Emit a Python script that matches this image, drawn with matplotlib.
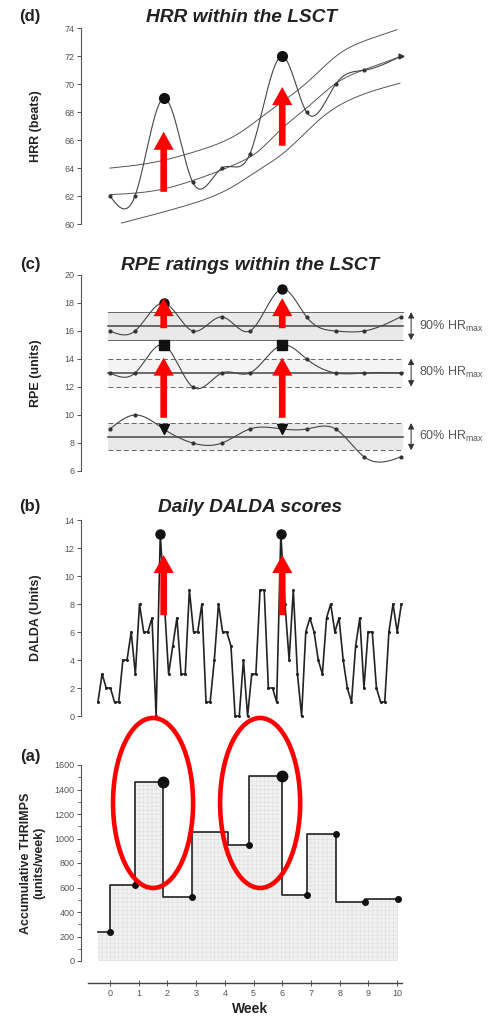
import numpy as np
import matplotlib
matplotlib.use("Agg")
import matplotlib.pyplot as plt
from matplotlib.patches import Ellipse

plt.rcParams['font.family'] = ['Liberation Sans', 'DejaVu Sans']
plt.rcParams['mathtext.default'] = 'regular'
plt.rcParams['hatch.linewidth'] = 0.3

# ---- data -------------------------------------------------------------
# weeks of the weekly LSCT tests
test_weeks = [0.0, 0.87, 1.87, 2.88, 3.9, 4.87, 6.0, 6.85, 7.86, 8.86, 10.12]
peak_idx = [2, 6]

# (d) HRR within the LSCT
hrr = [62, 62, 69, 63, 64, 65, 72, 68, 70, 71, 72]
trend_weeks = [0.0, 1.85, 2.87, 4.5, 5.1, 5.92, 6.85, 7.9, 8.94, 10.15]
trend_vals = [62.1, 62.5, 63.1, 64.4, 65.1, 66.7, 68.3, 70.1, 71.1, 72.0]
upper_weeks = [0.0, 1.5, 3.0, 4.5, 5.5, 6.85, 8.0, 9.0, 10.0]
upper_vals = [64.0, 64.4, 65.2, 66.5, 68.0, 70.1, 72.2, 73.2, 73.9]
lower_weeks = [0.4, 2.55, 4.3, 5.1, 6.04, 7.43, 8.6, 10.1]
lower_vals = [60.07, 61.26, 62.7, 63.76, 65.07, 67.7, 69.1, 70.07]

# (c) RPE ratings within the LSCT
rpe_90 = [16, 16, 18, 16, 17, 16, 19, 17, 16, 16, 17]
rpe_80 = [13, 13, 15, 12, 13, 13, 15, 14, 13, 13, 13]
rpe_60 = [9, 10, 9, 8, 8, 9, 9, 9, 9, 7, 7]
band_labels = ['90% HR$_{max}$', '80% HR$_{max}$', '60% HR$_{max}$']
band_centres = [16.35, 13.03, 8.45]
band_half = [1.0, 1.0, 0.97]

# (b) daily DALDA scores
dalda = [1, 3, 2, 2, 1, 1, 4, 4, 6, 3, 8, 6, 6, 7, 0, 13, 8, 3, 5, 7,
         3, 3, 9, 6, 6, 8, 1, 1, 4, 8, 6, 6, 5, 0, 0, 4, 0, 3, 3, 9,
         9, 2, 2, 1, 13, 8, 4, 9, 3, 0, 6, 7, 6, 4, 3, 7, 8, 6, 7, 4,
         2, 1, 5, 7, 2, 6, 6, 2, 1, 1, 6, 8, 6, 8]
dalda_start, dalda_end = -0.42, 10.15
dalda_peaks = [15, 44]

# (a) accumulative THRIMPS per week (step edges and values)
thr_weeks = [-0.42, 0.0, 0.87, 1.85, 2.87, 4.1, 4.85, 6.0, 6.87, 7.87, 8.87, 10.05]
thr_vals = [240, 240, 620, 1460, 520, 1050, 950, 1510, 540, 1040, 480, 510]
thr_marked = [1, 2, 4, 6, 8, 9, 10, 11]
thr_big = [3, 7]
week_ticks = list(range(0, 11))


def natural_spline(x, y, n=400):
    x = np.asarray(x, float)
    y = np.asarray(y, float)
    k = len(x)
    h = np.diff(x)
    A = np.zeros((k, k))
    r = np.zeros(k)
    A[0, 0] = A[-1, -1] = 1
    for i in range(1, k - 1):
        A[i, i - 1] = h[i - 1]
        A[i, i] = 2 * (h[i - 1] + h[i])
        A[i, i + 1] = h[i]
        r[i] = 3 * ((y[i + 1] - y[i]) / h[i] - (y[i] - y[i - 1]) / h[i - 1])
    c = np.linalg.solve(A, r)
    b = (y[1:] - y[:-1]) / h - h * (2 * c[:-1] + c[1:]) / 3
    d = (c[1:] - c[:-1]) / (3 * h)
    xs = np.linspace(x[0], x[-1], n)
    idx = np.clip(np.searchsorted(x, xs) - 1, 0, k - 2)
    dx = xs - x[idx]
    return xs, y[idx] + b[idx] * dx + c[idx] * dx ** 2 + d[idx] * dx ** 3


W, H = 489, 1017
fig = plt.figure(figsize=(W / 100, H / 100), dpi=100)


def make_ax(top_px, bottom_px):
    return fig.add_axes([81 / W, 1 - bottom_px / H, 333 / W, (bottom_px - top_px) / H])


def style_y(ax, label, label_x=-0.118):
    for s in ['top', 'right', 'bottom']:
        ax.spines[s].set_visible(False)
    ax.spines['left'].set_color('#555555')
    ax.spines['left'].set_linewidth(0.8)
    ax.tick_params(axis='y', labelsize=6.5, colors='#555555', length=3, width=0.7, pad=1.5)
    ax.set_xticks([])
    ax.set_ylabel(label, fontsize=9, fontweight='bold', color='#222222', linespacing=1.1)
    ax.yaxis.set_label_coords(label_x, 0.5)
    ax.set_xlim(-1.01, 10.59)


def red_arrow(ax, x, y0, y1):
    ax.annotate('', xy=(x, y1), xytext=(x, y0),
                arrowprops=dict(arrowstyle='simple,head_length=13,head_width=14.5,tail_width=4.8',
                                mutation_scale=1, color='red', lw=0, shrinkA=0, shrinkB=0),
                zorder=10)


# ---- (d) HRR -------------------------------------------------------------
ax_d = make_ax(28.3, 224)
style_y(ax_d, 'HRR (beats)')
ax_d.set_ylim(60, 74)
ax_d.set_yticks(range(60, 75, 2))
for wk, vals in [(upper_weeks, upper_vals), (trend_weeks, trend_vals), (lower_weeks, lower_vals)]:
    xs, ys = natural_spline(wk, vals)
    ax_d.plot(xs, ys, color='#555555', lw=0.7, clip_on=False)
xs, ys = natural_spline(test_weeks, hrr)
ax_d.plot(xs, ys, color='#444444', lw=0.8, clip_on=False)
ax_d.plot(test_weeks[:-1], hrr[:-1], 'o', color='#333333', ms=2, clip_on=False)
ax_d.plot(test_weeks[-1], hrr[-1], '>', color='#333333', ms=3.5, clip_on=False)
ax_d.plot([test_weeks[i] for i in peak_idx], [hrr[i] for i in peak_idx], 'o',
          color='#111111', ms=7, clip_on=False)
red_arrow(ax_d, test_weeks[2], 62.3, 66.6)
red_arrow(ax_d, test_weeks[6], 65.6, 69.8)

# ---- (c) RPE -------------------------------------------------------------
ax_c = make_ax(275, 471)
style_y(ax_c, 'RPE (units)')
ax_c.set_ylim(6, 20)
ax_c.set_yticks(range(6, 21, 2))
band_x = [-0.07, 10.2]
fills = ['#e9e9e9', '#f4f4f4', '#e9e9e9']
edge_styles = ['-', (0, (5, 3)), (0, (5, 3))]
for cen, hw, fc, ls, lab in zip(band_centres, band_half, fills, edge_styles, band_labels):
    ax_c.fill_between(band_x, cen - hw, cen + hw, color=fc, lw=0, zorder=0)
    ax_c.plot(band_x, [cen + hw] * 2, color='#666666', lw=0.7, ls=ls, zorder=1)
    ax_c.plot(band_x, [cen - hw] * 2, color='#666666', lw=0.7, ls=ls, zorder=1)
    ax_c.plot(band_x, [cen] * 2, color='#444444', lw=1.1, zorder=1)
    ax_c.annotate('', xy=(10.49, cen + hw), xytext=(10.49, cen - hw),
                  arrowprops=dict(arrowstyle='<|-|>,head_length=0.35,head_width=0.18',
                                  color='#333333', lw=0.7, shrinkA=0, shrinkB=0),
                  annotation_clip=False)
    ax_c.text(10.77, cen, lab, fontsize=9, color='#555555', va='center', ha='left',
              clip_on=False)

big_markers = ['o', 's', 'v']
for vals, mk in zip([rpe_90, rpe_80, rpe_60], big_markers):
    xs, ys = natural_spline(test_weeks, vals)
    ax_c.plot(xs, ys, color='#444444', lw=0.8, zorder=3)
    ax_c.plot(test_weeks, vals, 'o', color='#333333', ms=2, zorder=3)
    ax_c.plot([test_weeks[i] for i in peak_idx], [vals[i] for i in peak_idx], mk,
              color='#111111', ms=6.5, zorder=4)
for i in peak_idx:
    red_arrow(ax_c, test_weeks[i], 9.8, 14.1)
    red_arrow(ax_c, test_weeks[i], 16.2, 18.35)

# ---- (b) DALDA -----------------------------------------------------------
ax_b = make_ax(520, 716)
style_y(ax_b, 'DALDA (Units)')
ax_b.set_ylim(0, 14)
ax_b.set_yticks(range(0, 15, 2))
dx = np.linspace(dalda_start, dalda_end, len(dalda))
ax_b.plot(dx, dalda, color='#222222', lw=1.2, marker='o', ms=1.2, clip_on=False)
ax_b.plot(dx[dalda_peaks], [dalda[i] for i in dalda_peaks], 'o', color='#111111',
          ms=6.5, clip_on=False)
red_arrow(ax_b, test_weeks[2], 7.2, 11.5)
red_arrow(ax_b, test_weeks[6], 7.2, 11.5)

# ---- (a) THRIMPS ---------------------------------------------------------
ax_a = make_ax(765, 961)
style_y(ax_a, 'Accumulative THRIMPS\n(units/week)', label_x=-0.108)
ax_a.set_ylim(0, 1600)
ax_a.set_yticks(range(0, 1601, 200))
ax_a.set_yticks(range(100, 1600, 200), minor=True)
ax_a.tick_params(axis='y', which='minor', length=2, width=0.6, colors='#555555')
ax_a.spines['bottom'].set_visible(True)
ax_a.spines['bottom'].set_position(('outward', 16))
ax_a.spines['bottom'].set_bounds(-0.77, 10.17)
ax_a.spines['bottom'].set_color('#444444')
ax_a.spines['bottom'].set_linewidth(1.0)
ax_a.set_xticks(week_ticks)
ax_a.tick_params(axis='x', labelsize=6.5, colors='#555555', direction='inout',
                 length=4, width=0.7, pad=2)
ax_a.fill_between(thr_weeks, 0, thr_vals, step='pre', facecolor='#f1f1f1',
                  edgecolor='#d9d9d9', hatch='++++', lw=0, zorder=0)
ax_a.plot(thr_weeks, thr_vals, drawstyle='steps-pre', color='#222222', lw=1.2, zorder=2)
ax_a.plot([thr_weeks[i] for i in thr_marked], [thr_vals[i] for i in thr_marked], 'o',
          color='#111111', ms=4, zorder=3)
ax_a.plot([thr_weeks[i] for i in thr_big], [thr_vals[i] for i in thr_big], 'o',
          color='#111111', ms=7.5, zorder=3)
for cx in [1.5, 5.23]:
    ax_a.add_patch(Ellipse((cx, 1290), 2.79, 1388, fill=False, edgecolor='red',
                           lw=3.3, clip_on=False, zorder=5))

# ---- panel letters, titles, week label -----------------------------------
panels = [('(d)', 'HRR within the LSCT', 17, 242),
          ('(c)', 'RPE ratings within the LSCT', 265, 250),
          ('(b)', 'Daily DALDA scores', 507, 250),
          ('(a)', None, 757, None)]
for letter, title, ypx, tx in panels:
    fig.text(30 / W, 1 - ypx / H, letter, fontsize=12, fontweight='bold',
             ha='center', va='center', color='#222222')
    if title:
        fig.text(tx / W, 1 - ypx / H, title, fontsize=13.8, fontweight='bold',
                 fontstyle='italic', ha='center', va='center', color='#222222')
fig.text(250 / W, 1 - 1009 / H, 'Week', fontsize=10, fontweight='bold',
         ha='center', va='center', color='#222222')

fig.savefig('out.png', dpi=100, facecolor='white')
